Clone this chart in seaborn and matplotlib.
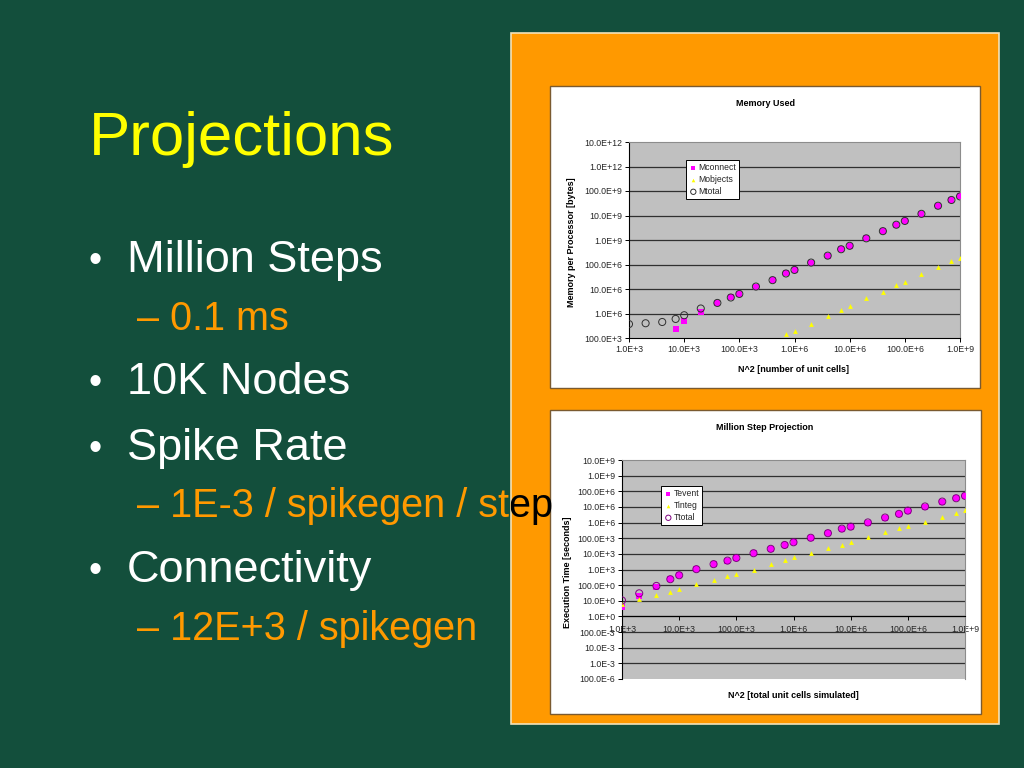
import numpy as np
import pandas as pd
import seaborn as sns
import matplotlib
matplotlib.use('Agg')
from matplotlib import pyplot as plt
from matplotlib.patches import Rectangle

# data
cells = [1e3, 2e3, 4e3, 7e3, 1e4, 2e4, 4e4, 7e4, 1e5, 2e5, 4e5, 7e5, 1e6,
         2e6, 4e6, 7e6, 1e7, 2e7, 4e7, 7e7, 1e8, 2e8, 4e8, 7e8, 1e9]

m_total = [3.7e5, 4.0e5, 4.5e5, 6.0e5, 8.5e5, 1.6e6, 2.7e6, 4.5e6, 6.3e6, 1.26e7,
           2.3e7, 4.3e7, 6.0e7, 1.2e8, 2.3e8, 4.2e8, 5.8e8, 1.17e9, 2.3e9, 4.2e9,
           6.0e9, 1.17e10, 2.5e10, 4.3e10, 6.0e10]
m_connect_x = cells[3:]
m_connect = [2.4e5, 5.1e5, 1.15e6, 2.7e6, 4.5e6, 6.3e6, 1.26e7, 2.3e7, 4.3e7,
             6.0e7, 1.2e8, 2.3e8, 4.2e8, 5.8e8, 1.17e9, 2.3e9, 4.2e9, 6.0e9,
             1.17e10, 2.5e10, 4.3e10, 6.0e10]
m_objects_x = cells[11:]
m_objects = [1.4e5, 2.0e5, 3.7e5, 8.0e5, 1.4e6, 1.95e6, 4.2e6, 7.8e6, 1.4e7,
             1.95e7, 4.0e7, 7.8e7, 1.35e8, 1.86e8]

t_total = [10.5, 30, 89, 240, 430, 1050, 2200, 3700, 5500, 1.1e4, 2.1e4, 3.7e4,
           5.5e4, 1.07e5, 2.1e5, 4.1e5, 5.5e5, 1.02e6, 2.1e6, 3.6e6, 5.8e6,
           1.07e7, 2.2e7, 3.6e7, 5.1e7]
t_event = [4.2, 21, 71, 235, 420, 1030, 2150, 3650, 5400, 1.08e4, 2.05e4, 3.6e4,
           5.4e4, 1.05e5, 2.05e5, 4.0e5, 5.4e5, 1.0e6, 2.05e6, 3.55e6, 5.7e6,
           1.05e7, 2.15e7, 3.55e7, 5.0e7]
t_integ = [6.3, 12.6, 22, 39, 58, 120, 220, 390, 550, 1000, 2300, 3900, 6000,
           1.1e4, 2.3e4, 3.9e4, 5.8e4, 1.15e5, 2.4e5, 4.3e5, 5.8e5, 1.07e6,
           2.2e6, 4.1e6, 6.3e6]

x_ticks = [1e3, 1e4, 1e5, 1e6, 1e7, 1e8, 1e9]
x_labels = ['1.0E+3', '10.0E+3', '100.0E+3', '1.0E+6', '10.0E+6', '100.0E+6', '1.0E+9']
mem_ticks = [1e5, 1e6, 1e7, 1e8, 1e9, 1e10, 1e11, 1e12, 1e13]
mem_labels = ['100.0E+3', '1.0E+6', '10.0E+6', '100.0E+6', '1.0E+9', '10.0E+9',
              '100.0E+9', '1.0E+12', '10.0E+12']
time_ticks = [1e-4, 1e-3, 1e-2, 1e-1, 1e0, 1e1, 1e2, 1e3, 1e4, 1e5, 1e6, 1e7, 1e8, 1e9, 1e10]
time_labels = ['100.0E-6', '1.0E-3', '10.0E-3', '100.0E-3', '1.0E+0', '10.0E+0',
               '100.0E+0', '1.0E+3', '10.0E+3', '100.0E+3', '1.0E+6', '10.0E+6',
               '100.0E+6', '1.0E+9', '10.0E+9']

sns.set_theme(style='white')
plt.rcParams['font.family'] = ['Liberation Sans', 'DejaVu Sans']

W, H = 1024, 768
fig = plt.figure(figsize=(10.24, 7.68), dpi=100)
fig.patch.set_facecolor('#134f3c')

def px(x, y, w, h):
    # pixel box (top-left origin) -> figure fraction rect
    return [x / W, 1 - (y + h) / H, w / W, h / H]

# orange panel and white chart frames
r = px(511, 33, 488, 691)
fig.patches.append(Rectangle((r[0], r[1]), r[2], r[3], transform=fig.transFigure,
                             facecolor='#ff9900', edgecolor='#f3e2b8', lw=1.2, zorder=-3))
for bx in [(550, 86, 430, 302), (550, 410, 431, 304)]:
    r = px(*bx)
    fig.patches.append(Rectangle((r[0], r[1]), r[2], r[3], transform=fig.transFigure,
                                 facecolor='white', edgecolor='#7a5a30', lw=1.0, zorder=-2))

# slide text
fig.text(89 / W, 1 - 155 / H, 'Projections', color='#ffff00', fontsize=44.5, va='baseline')
bullets = [('Million Steps', 272), ('10K Nodes', 394), ('Spike Rate', 460), ('Connectivity', 582)]
for txt, yb in bullets:
    fig.text(88 / W, 1 - yb / H, '•', color='white', fontsize=27, va='baseline')
    fig.text(127 / W, 1 - yb / H, txt, color='white', fontsize=32.5, va='baseline')
subs = [('– 0.1 ms', 330), ('– 1E-3 / spikegen / step', 517), ('– 12E+3 / spikegen', 640)]
clip_l = Rectangle((0, 0), 511 / W, 1, transform=fig.transFigure)
clip_r = Rectangle((511 / W, 0), 1, 1, transform=fig.transFigure)
for txt, yb in subs:
    t1 = fig.text(137 / W, 1 - yb / H, txt, color='#ff9900', fontsize=28.5, va='baseline')
    t1.set_clip_path(clip_l)
    t2 = fig.text(137 / W, 1 - yb / H, txt, color='black', fontsize=28.5, va='baseline')
    t2.set_clip_path(clip_r)

def style_axes(ax, ticks, labels):
    ax.set_facecolor('#c0c0c0')
    ax.set_xscale('log')
    ax.set_yscale('log')
    ax.set_xticks(x_ticks)
    ax.set_xticklabels(x_labels)
    ax.set_yticks(ticks)
    ax.set_yticklabels(labels)
    ax.minorticks_off()
    ax.set_xlim(1e3, 1e9)
    ax.set_ylim(ticks[0], ticks[-1])
    for t in ticks[1:-1]:
        ax.axhline(t, color='#303030', lw=0.9, zorder=1)
    for s in ['top', 'right']:
        ax.spines[s].set_color('#8c8c8c')
        ax.spines[s].set_linewidth(0.8)
    for s in ['left', 'bottom']:
        ax.spines[s].set_color('black')
        ax.spines[s].set_linewidth(0.8)
    ax.tick_params(axis='both', which='major', labelsize=6.3, length=3, width=0.7,
                   pad=2, color='black', left=True, bottom=True, direction='out')
    ax.set_xlabel('')
    ax.set_ylabel('')

def legend(ax, x0, y0):
    leg = ax.legend(loc='upper left', bbox_to_anchor=(x0, y0), fontsize=6.2,
                    frameon=True, fancybox=False, borderpad=0.35, labelspacing=0.35,
                    handletextpad=0.1, handlelength=1.0, borderaxespad=0, markerscale=0.75)
    leg.get_frame().set_edgecolor('black')
    leg.get_frame().set_linewidth(0.7)
    leg.get_frame().set_facecolor('white')
    leg.get_frame().set_alpha(1)

# chart 1: Memory Used
ax1 = fig.add_axes(px(629, 142, 331, 196))
sns.scatterplot(x=m_connect_x, y=m_connect, ax=ax1, marker='s', color='#ff00ff',
                s=17, linewidth=0, label='Mconnect', zorder=3)
sns.scatterplot(x=m_objects_x, y=m_objects, ax=ax1, marker='^', color='#ffff00',
                s=12, linewidth=0, label='Mobjects', zorder=3)
sns.scatterplot(x=cells, y=m_total, ax=ax1, marker='o', facecolor='none',
                edgecolor='#303030', s=26, linewidth=0.7, label='Mtotal', zorder=4)
style_axes(ax1, mem_ticks, mem_labels)
legend(ax1, (686 - 629) / 331, (142 - 160) / 196 + 1)
fig.text(765 / W, 1 - 103 / H, 'Memory Used', fontsize=6.5, fontweight='bold',
         ha='center', va='center', color='black')
fig.text(794 / W, 1 - 369 / H, 'N^2 [number of unit cells]', fontsize=6.5,
         fontweight='bold', ha='center', va='center', color='black')
fig.text(572 / W, 1 - 242 / H, 'Memory per Processor [bytes]', fontsize=6.5,
         fontweight='bold', ha='center', va='center', rotation=90, color='black')

# chart 2: Million Step Projection
ax2 = fig.add_axes(px(622, 460, 343, 219))
sns.scatterplot(x=cells, y=t_event, ax=ax2, marker='s', color='#ff00ff',
                s=17, linewidth=0, label='Tevent', zorder=3)
sns.scatterplot(x=cells, y=t_integ, ax=ax2, marker='^', color='#ffff00',
                s=12, linewidth=0, label='Tinteg', zorder=3)
sns.scatterplot(x=cells, y=t_total, ax=ax2, marker='o', facecolor='none',
                edgecolor='#800080', s=26, linewidth=0.7, label='Ttotal', zorder=4)
style_axes(ax2, time_ticks, time_labels)
ax2.spines['bottom'].set_position(('data', 1))
ax2.spines['bottom'].set_color('black')
ax2.tick_params(axis='x', pad=3)
legend(ax2, (661 - 622) / 343, (460 - 486) / 219 + 1)
fig.text(765 / W, 1 - 427 / H, 'Million Step Projection', fontsize=6.5, fontweight='bold',
         ha='center', va='center', color='black')
fig.text(793 / W, 1 - 695 / H, 'N^2 [total unit cells simulated]', fontsize=6.5,
         fontweight='bold', ha='center', va='center', color='black')
fig.text(568 / W, 1 - 572 / H, 'Execution Time [seconds]', fontsize=6.5,
         fontweight='bold', ha='center', va='center', rotation=90, color='black')

fig.savefig('out.png', dpi=100, facecolor=fig.get_facecolor())
